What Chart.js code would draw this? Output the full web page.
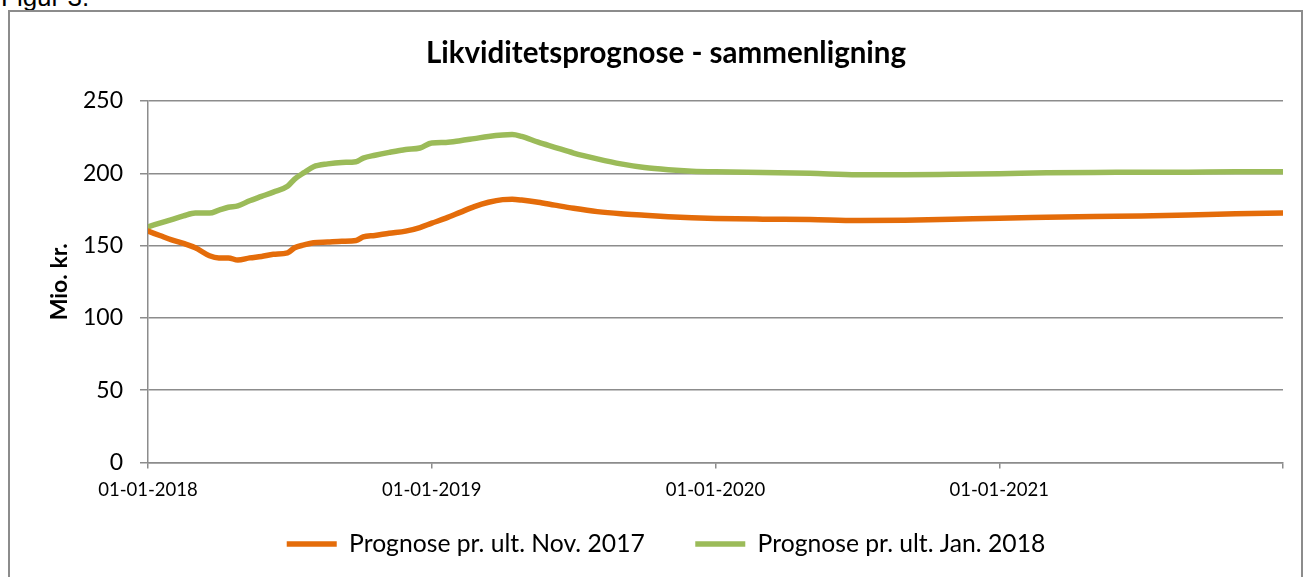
<!DOCTYPE html>
<html>
<head>
<meta charset="utf-8">
<script src="https://cdn.jsdelivr.net/npm/chart.js@4/dist/chart.umd.min.js"></script>
<style>
  html, body { margin: 0; padding: 0; background: #fff; overflow: hidden; }
  #wrap { position: relative; width: 1303px; height: 577px; }
  #frame { position: absolute; left: 8px; top: 10px; width: 1291px; height: 600px; border: 2px solid #8c8c8c; }
  #fig { position: absolute; left: 1px; top: -16px; font: 26px "Liberation Sans", Arial, sans-serif; line-height: 1; color: #000; }
  canvas { position: absolute; left: 0; top: 0; }
</style>
</head>
<body>
<div id="wrap">
  <div id="fig">Figur 3.</div>
  <div id="frame"></div>
  <canvas id="chart" width="1303" height="577"></canvas>
</div>
<script>
// months since 01-01-2018
const months = [0, 0.5, 1, 1.5, 2, 2.6, 3, 3.4, 3.8, 4.3, 4.8, 5.3, 5.9, 6.2, 6.6, 7, 7.6, 8.2, 8.8, 9.1,
  9.6, 10.2, 10.9, 11.5, 12, 12.6, 13.2, 13.8, 14.4, 15, 15.4, 15.8, 16.5, 17.2, 18, 19, 20, 21, 22, 23,
  24, 26, 28, 30, 32, 34, 36, 38, 40, 42, 44, 46, 48];

const prognoseNov2017 = [160, 157, 154, 151.5, 148.5, 143, 141.5, 141.5, 140, 141.5, 142.5, 144, 145, 148.5, 150.5, 152, 152.5, 153, 153.5, 156,
  157, 158.5, 160, 162.5, 165.5, 169, 173, 177, 180, 181.8, 182, 181.5, 180, 178, 175.8, 173.5, 172, 171, 170, 169.3,
  168.8, 168.3, 168, 167.3, 167.5, 168.2, 169, 169.6, 170.2, 170.5, 171.2, 172, 172.5];

const prognoseJan2018 = [163, 165.5, 168, 170.5, 172.5, 172.5, 174.5, 176.5, 177.5, 181, 184, 187, 191, 196, 200.5, 204.5, 206.5, 207.5, 208, 210.5,
  212.5, 214.5, 216.5, 217.5, 221, 221.3, 222.5, 224, 225.5, 226.5, 226.8, 225.5, 221.5, 218, 214, 210, 206.5, 204, 202.5, 201.5,
  201, 200.5, 200, 199, 199, 199.3, 199.7, 200.3, 200.6, 200.7, 200.8, 201, 201];

const seriesLabels = ["Prognose pr. ult. Nov. 2017", "Prognose pr. ult. Jan. 2018"];
const xTickLabels = { 0: "01-01-2018", 12: "01-01-2019", 24: "01-01-2020", 36: "01-01-2021", 48: "" };

const toPoints = (vals) => vals.map((v, i) => ({ x: months[i], y: v }));
const gridGray = "#8c8c8c";

Chart.defaults.color = "#000";
Chart.defaults.font.family = "Lato, 'Noto Sans', sans-serif";

function makeLine(label, values, color) {
  return {
    label: label,
    data: toPoints(values),
    borderColor: color,
    backgroundColor: color,
    borderWidth: 5.5,
    borderCapStyle: "round",
    borderJoinStyle: "round",
    pointRadius: 0,
    pointStyle: "line",
    tension: 0.3,
    cubicInterpolationMode: "monotone",
  };
}

new Chart(document.getElementById("chart").getContext("2d"), {
  type: "line",
  data: {
    datasets: [
      makeLine(seriesLabels[0], prognoseNov2017, "#E46C0A"),
      makeLine(seriesLabels[1], prognoseJan2018, "#9BBB59"),
    ],
  },
  options: {
    responsive: false,
    animation: false,
    layout: { padding: { left: 49, right: 20, top: 0, bottom: 10.65 } },
    scales: {
      x: {
        type: "linear",
        min: 0,
        max: 48,
        ticks: {
          stepSize: 12,
          maxRotation: 0,
          autoSkip: false,
          padding: 10,
          font: { size: 18.5 },
          callback: (v) => xTickLabels[v] ?? "",
        },
        grid: { drawOnChartArea: false, drawTicks: true, tickLength: 6, color: gridGray, lineWidth: 1.5 },
        border: { color: gridGray, width: 1.5 },
        afterFit: (scale) => { scale.height = 38; },
      },
      y: {
        min: 0,
        max: 250,
        ticks: { stepSize: 50, padding: 17, font: { size: 23 } },
        grid: { color: gridGray, lineWidth: 1.5, tickLength: 8 },
        border: { color: gridGray, width: 1.5 },
        title: {
          display: true,
          text: "Mio. kr.",
          font: { size: 23, weight: "bold", lineHeight: 0.9 },
          padding: { top: 0, bottom: 0 },
        },
        afterFit: (scale) => { scale.width = 99; },
      },
    },
    plugins: {
      title: {
        display: true,
        text: "Likviditetsprognose - sammenligning",
        font: { size: 29.5, weight: "bold" },
        padding: { top: 35.3, bottom: 30.3 },
      },
      legend: {
        position: "bottom",
        // empty legend title with negative padding: keeps the wide gap between
        // items without pushing the row down
        title: { display: true, text: "", font: { size: 1, lineHeight: 1 }, padding: { top: -20.35, bottom: 0 } },
        labels: {
          usePointStyle: true,
          pointStyleWidth: 50,
          padding: 50.5,
          font: { size: 24.7 },
        },
      },
      tooltip: { enabled: false },
    },
  },
});
</script>
</body>
</html>
